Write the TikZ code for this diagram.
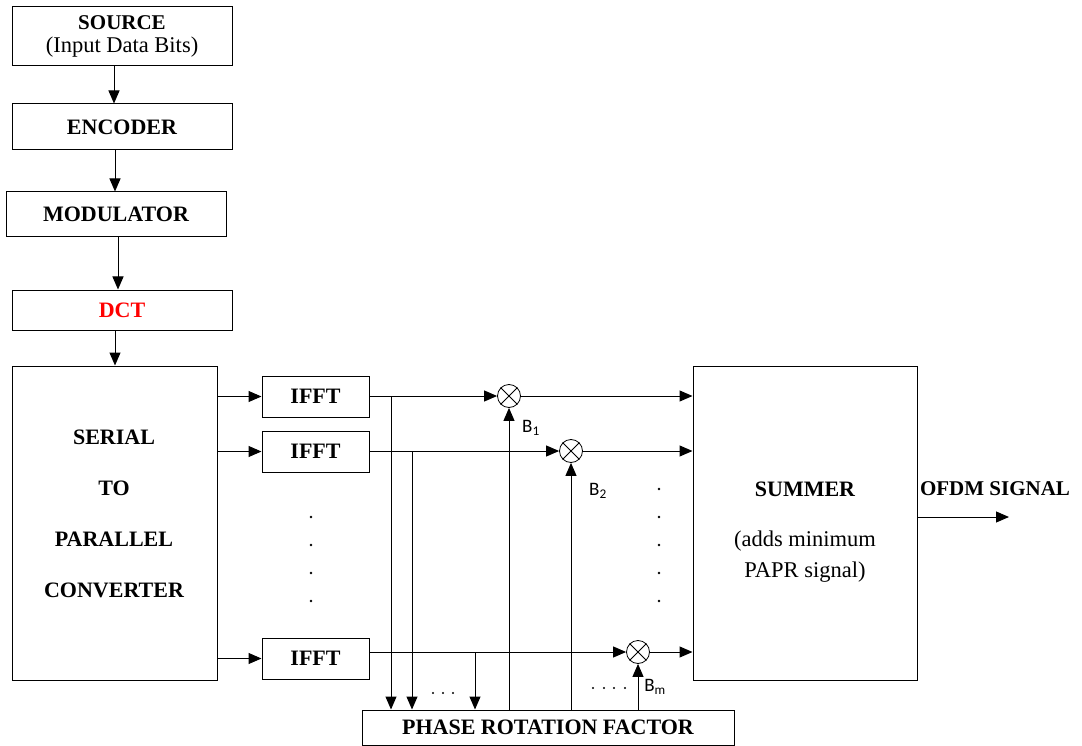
\documentclass[tikz,border=0pt]{standalone}
\usepackage{fontspec}
\setmainfont{Liberation Serif}
\newfontfamily\calib{Carlito}
\usetikzlibrary{arrows.meta,calc}
\begin{document}
\begin{tikzpicture}[x=1pt,y=-1pt,
  box/.style={draw, line width=1pt, inner sep=0pt, align=center,
     font=\bfseries\fontsize{22}{22}\selectfont},
  txt/.style={inner sep=0pt, align=center, font=\bfseries\fontsize{22}{22}\selectfont},
  arr/.style={line width=1pt, -{Triangle[length=13pt,width=11pt]}},
  mult/.style={draw, circle, line width=0.8pt, minimum size=23pt, inner sep=0pt},
  blab/.style={inner sep=0pt, font=\calib\fontsize{19}{19}\selectfont},
  dot/.style={fill=black}
]
\useasboundingbox (0,0) rectangle (1082,746);

% left column
\node[box, minimum width=220pt, minimum height=59pt] (src) at (122,36.5)
  {\fontsize{21}{21}\selectfont SOURCE\\[1pt]{\mdseries\fontsize{22.5}{22}\selectfont (Input Data Bits)}};
\node[box, minimum width=220pt, minimum height=46pt] (enc) at (122,127) {ENCODER};
\node[box, minimum width=220pt, minimum height=45pt] (mod) at (116,214.5) {MODULATOR};
\node[box, minimum width=220pt, minimum height=40pt, text=red] (dct) at (122,310) {DCT};
\node[box, minimum width=205pt, minimum height=314pt] (sp) at (114.5,523) {};
\node[txt, font=\bfseries\fontsize{22}{51}\selectfont] (spt) at (114,514)
  {SERIAL\\TO\\PARALLEL\\CONVERTER};

\draw[arr] ([xshift=-8pt]src.south) -- ([xshift=-8pt]src.south |- enc.north);
\draw[arr] ([xshift=-7pt]enc.south) -- ([xshift=-7pt]enc.south |- mod.north);
\draw[arr] ([xshift=2pt]mod.south) -- ([xshift=2pt]mod.south |- dct.north);
\draw[arr] ([xshift=-7pt]dct.south) -- ([xshift=-7pt]dct.south |- sp.north);

% IFFT blocks
\node[box, minimum width=107pt, minimum height=41pt] (i1) at (315.5,396.5) {IFFT};
\node[box, minimum width=107pt, minimum height=41pt] (i2) at (315.5,451.5) {IFFT};
\node[box, minimum width=107pt, minimum height=41pt] (i3) at (315.5,658.5) {IFFT};
\draw[arr] (i1.west -| sp.east) -- (i1.west);
\draw[arr] (i2.west -| sp.east) -- (i2.west);
\draw[arr] (i3.west -| sp.east) -- (i3.west);
\foreach \y in {517,545,573,601} \fill[dot] (311,\y) circle (1.3pt);

% summer
\node[box, minimum width=224pt, minimum height=314pt] (sum) at (805,523) {};
\node[txt] (sumt) at (805,489) {SUMMER};
\node[txt, font=\mdseries\fontsize{22.5}{31}\selectfont] (sumd) at (805,557)
  {(adds minimum\\PAPR signal)};

% phase rotation
\node[box, minimum width=372pt, minimum height=35pt] (ph) at (548,727.5) {PHASE ROTATION FACTOR};

% multipliers
\node[mult] (m1) at (509,396) {};
\node[mult] (m2) at (571,451) {};
\node[mult] (mm) at (638,652) {};
\foreach \m in {m1,m2,mm}{
  \draw[line width=0.8pt] (\m.45) -- (\m.225) (\m.135) -- (\m.315);
}
\draw[arr] (i1.east |- m1) -- (m1);
\draw[arr] (i2.east |- m2) -- (m2);
\draw[arr] (i3.east |- mm) -- (mm);
\draw[arr] (m1) -- (m1 -| sum.west);
\draw[arr] (m2) -- (m2 -| sum.west);
\draw[arr] (mm) -- (mm -| sum.west);

% branches down to phase rotation
\coordinate (b1) at (391,396);
\coordinate (b2) at (412,451);
\coordinate (b3) at (475,652);
\draw[arr] (b1) -- (b1 |- ph.north);
\draw[arr] (b2) -- (b2 |- ph.north);
\draw[arr] (b3) -- (b3 |- ph.north);
\foreach \x in {433,443,453} \fill[dot] (\x,693) circle (1.1pt);

% phase factors up to multipliers
\draw[arr] (m1 |- ph.north) -- (m1.south);
\draw[arr] (m2 |- ph.north) -- (m2.south);
\draw[arr] (mm |- ph.north) -- (mm.south);
\node[blab] (l1) at (531,428) {B\textsubscript{1}};
\node[blab] (l2) at (598,491) {B\textsubscript{2}};
\node[blab] (lm) at (655,687) {B\textsubscript{m}};
\foreach \x in {593,604,614,625} \fill[dot] (\x,688) circle (1.1pt);
\foreach \y in {489,517,545,573,601} \fill[dot] (659,\y) circle (1.3pt);

% output
\coordinate (out) at (1009,517);
\draw[arr] (sum.east |- out) -- (out);
\node[txt, font=\bfseries\fontsize{21}{21}\selectfont] (outl) at (995,489) {OFDM SIGNAL};
\end{tikzpicture}
\end{document}
